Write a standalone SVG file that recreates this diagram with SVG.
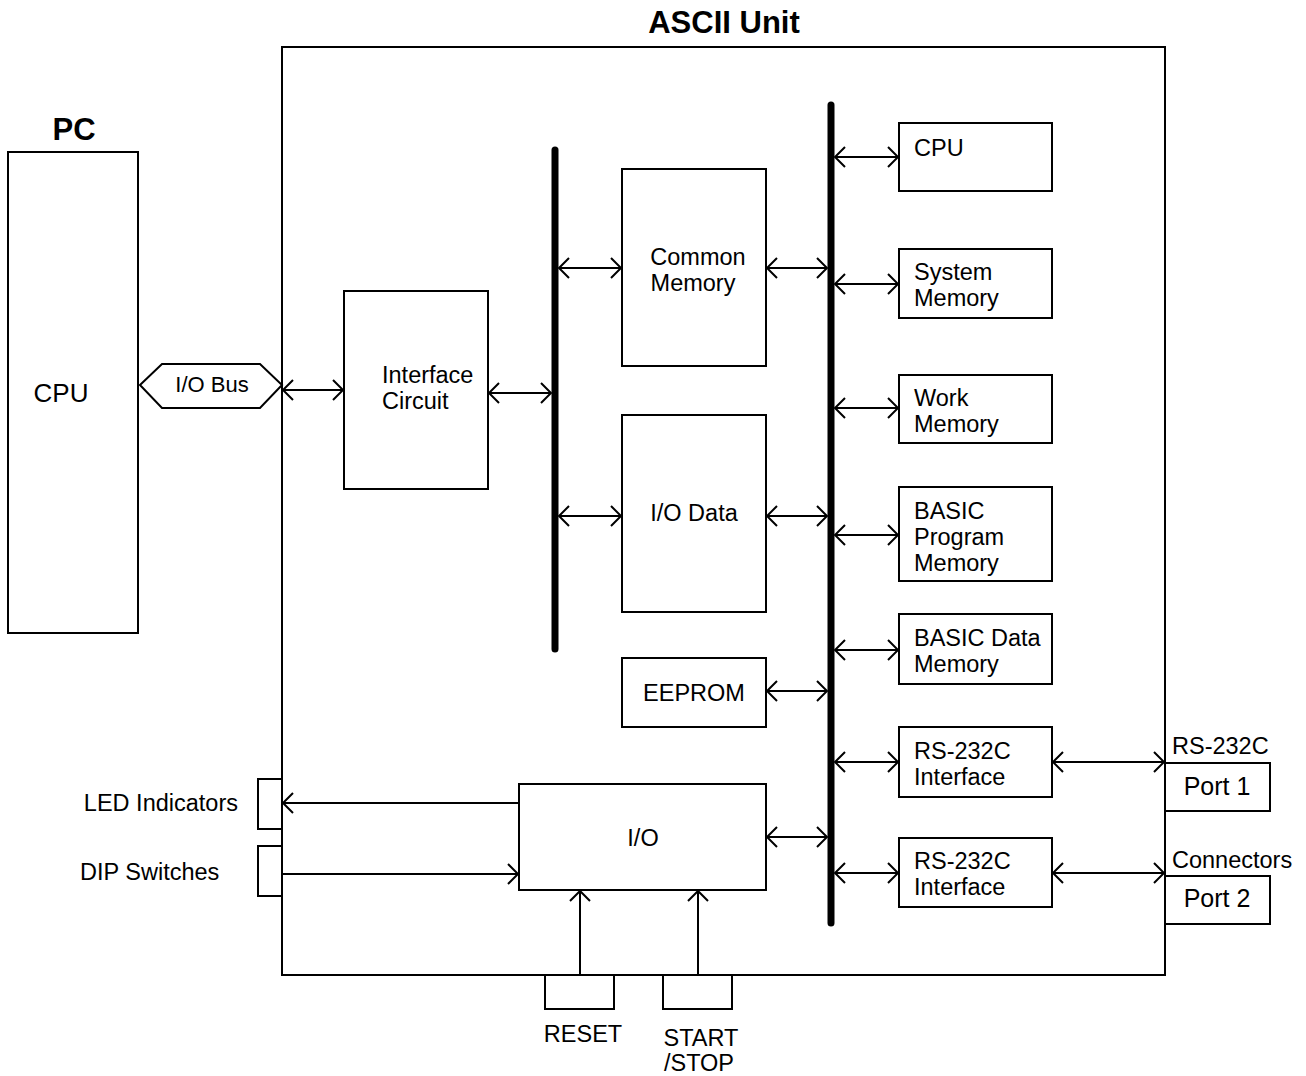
<svg xmlns="http://www.w3.org/2000/svg" width="1306" height="1076" viewBox="0 0 1306 1076">
<style>
.b{fill:#fff;stroke:#000;stroke-width:2}
.t{font-family:"Liberation Sans",Arial,sans-serif;font-size:23.5px;fill:#000}
.h{font-family:"Liberation Sans",Arial,sans-serif;font-size:31px;font-weight:bold;fill:#000}
.c{stroke:#000;stroke-width:2;fill:none}
.bus{stroke:#000;stroke-width:7;stroke-linecap:round}
</style>
<defs>
<marker id="a" viewBox="-12 -13 14 26" markerWidth="14" markerHeight="26" refX="0" refY="0" markerUnits="userSpaceOnUse" orient="auto-start-reverse">
<path d="M-10,-10 L0,0 L-10,10" fill="none" stroke="#000" stroke-width="2"/>
</marker>
</defs>
<rect width="1306" height="1076" fill="#fff"/>
<g id="ascii-unit"><rect class="b" x="282" y="47" width="883" height="928"/><text class="h" x="724" y="33" text-anchor="middle">ASCII Unit</text></g>
<g id="pc"><rect class="b" x="8" y="152" width="130" height="481"/><text class="h" x="74" y="140" text-anchor="middle">PC</text><text class="t" x="61" y="402" text-anchor="middle" style="font-size:26px">CPU</text></g>
<g id="io-bus"><polygon class="b" points="140,385 162,364 260,364 282,385 260,408 162,408"/><text class="t" x="212" y="392" text-anchor="middle" style="font-size:22px">I/O Bus</text></g>
<g id="interface"><rect class="b" x="344" y="291" width="144" height="198"/><text class="t" x="382" y="383">Interface</text><text class="t" x="382" y="409">Circuit</text></g>
<g id="bus-left"><line class="bus" x1="555" y1="150" x2="555" y2="649"/></g>
<g id="bus-right"><line class="bus" x1="831" y1="105" x2="831" y2="923"/></g>
<g id="common-memory"><rect class="b" x="622" y="169" width="144" height="197"/><text class="t" x="698" y="265" text-anchor="middle">Common</text><text class="t" x="693" y="291" text-anchor="middle">Memory</text></g>
<g id="io-data"><rect class="b" x="622" y="415" width="144" height="197"/><text class="t" x="694" y="521" text-anchor="middle">I/O Data</text></g>
<g id="eeprom"><rect class="b" x="622" y="658" width="144" height="69"/><text class="t" x="694" y="701" text-anchor="middle">EEPROM</text></g>
<g id="io"><rect class="b" x="519" y="784" width="247" height="106"/><text class="t" x="643" y="846" text-anchor="middle">I/O</text></g>
<g id="led"><rect class="b" x="258" y="779" width="24" height="50"/><text class="t" x="238" y="811" text-anchor="end">LED Indicators</text></g>
<g id="dip"><rect class="b" x="258" y="846" width="24" height="50"/><text class="t" x="80" y="880">DIP Switches</text></g>
<g id="reset"><rect class="b" x="545" y="975" width="69" height="34"/><text class="t" x="583" y="1042" text-anchor="middle">RESET</text></g>
<g id="start"><rect class="b" x="663" y="975" width="69" height="34"/><text class="t" x="701" y="1046" text-anchor="middle">START</text><text class="t" x="699" y="1071" text-anchor="middle">/STOP</text></g>
<g id="cpu"><rect class="b" x="899" y="123" width="153" height="68"/><text class="t" x="914" y="156">CPU</text></g>
<g id="system-memory"><rect class="b" x="899" y="249" width="153" height="69"/><text class="t" x="914" y="280">System</text><text class="t" x="914" y="306">Memory</text></g>
<g id="work-memory"><rect class="b" x="899" y="375" width="153" height="68"/><text class="t" x="914" y="406">Work</text><text class="t" x="914" y="432">Memory</text></g>
<g id="basic-program"><rect class="b" x="899" y="487" width="153" height="94"/><text class="t" x="914" y="519">BASIC</text><text class="t" x="914" y="545">Program</text><text class="t" x="914" y="571">Memory</text></g>
<g id="basic-data"><rect class="b" x="899" y="614" width="153" height="70"/><text class="t" x="914" y="646">BASIC Data</text><text class="t" x="914" y="672">Memory</text></g>
<g id="rs1"><rect class="b" x="899" y="727" width="153" height="70"/><text class="t" x="914" y="759">RS-232C</text><text class="t" x="914" y="785">Interface</text></g>
<g id="rs2"><rect class="b" x="899" y="838" width="153" height="69"/><text class="t" x="914" y="869">RS-232C</text><text class="t" x="914" y="895">Interface</text></g>
<g id="port1"><rect class="b" x="1165" y="763" width="105" height="48"/><text class="t" x="1217" y="795" text-anchor="middle" style="font-size:25px">Port 1</text></g>
<g id="port2"><rect class="b" x="1165" y="876" width="105" height="48"/><text class="t" x="1217" y="907" text-anchor="middle" style="font-size:25px">Port 2</text></g>
<text class="t" x="1172" y="754">RS-232C</text>
<text class="t" x="1172" y="868">Connectors</text>
<g id="connectors">
<line class="c" x1="283" y1="390" x2="343" y2="390" marker-start="url(#a)" marker-end="url(#a)"/>
<line class="c" x1="489" y1="393" x2="551" y2="393" marker-start="url(#a)" marker-end="url(#a)"/>
<line class="c" x1="559" y1="268" x2="621" y2="268" marker-start="url(#a)" marker-end="url(#a)"/>
<line class="c" x1="767" y1="268" x2="827" y2="268" marker-start="url(#a)" marker-end="url(#a)"/>
<line class="c" x1="559" y1="516" x2="621" y2="516" marker-start="url(#a)" marker-end="url(#a)"/>
<line class="c" x1="767" y1="516" x2="827" y2="516" marker-start="url(#a)" marker-end="url(#a)"/>
<line class="c" x1="767" y1="691" x2="827" y2="691" marker-start="url(#a)" marker-end="url(#a)"/>
<line class="c" x1="767" y1="837" x2="827" y2="837" marker-start="url(#a)" marker-end="url(#a)"/>
<line class="c" x1="835" y1="157" x2="898" y2="157" marker-start="url(#a)" marker-end="url(#a)"/>
<line class="c" x1="835" y1="284" x2="898" y2="284" marker-start="url(#a)" marker-end="url(#a)"/>
<line class="c" x1="835" y1="408" x2="898" y2="408" marker-start="url(#a)" marker-end="url(#a)"/>
<line class="c" x1="835" y1="535" x2="898" y2="535" marker-start="url(#a)" marker-end="url(#a)"/>
<line class="c" x1="835" y1="650" x2="898" y2="650" marker-start="url(#a)" marker-end="url(#a)"/>
<line class="c" x1="835" y1="762" x2="898" y2="762" marker-start="url(#a)" marker-end="url(#a)"/>
<line class="c" x1="835" y1="873" x2="898" y2="873" marker-start="url(#a)" marker-end="url(#a)"/>
<line class="c" x1="1053" y1="762" x2="1164" y2="762" marker-start="url(#a)" marker-end="url(#a)"/>
<line class="c" x1="1053" y1="873" x2="1164" y2="873" marker-start="url(#a)" marker-end="url(#a)"/>
<line class="c" x1="519" y1="803" x2="283" y2="803" marker-end="url(#a)"/>
<line class="c" x1="283" y1="874" x2="518" y2="874" marker-end="url(#a)"/>
<line class="c" x1="580" y1="975" x2="580" y2="891" marker-end="url(#a)"/>
<line class="c" x1="698" y1="975" x2="698" y2="891" marker-end="url(#a)"/>
</g>
</svg>
